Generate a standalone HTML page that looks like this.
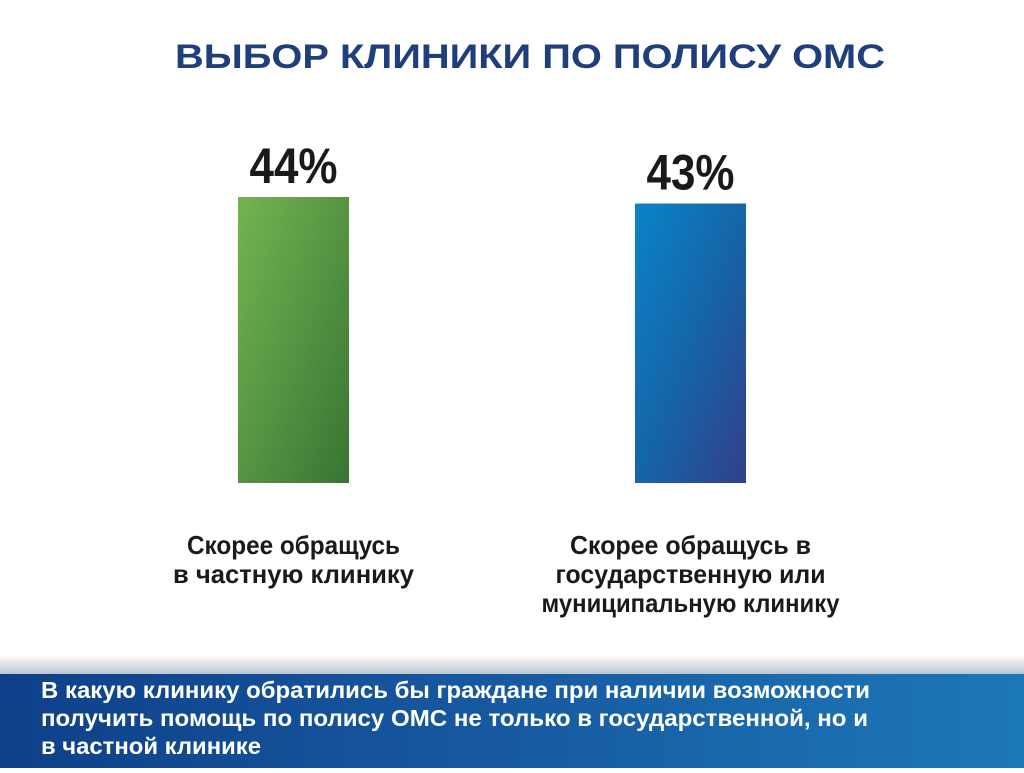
<!DOCTYPE html>
<html><head><meta charset="utf-8"><style>
body{margin:0;width:1024px;height:768px;overflow:hidden;background:#fff;font-family:"Liberation Sans",sans-serif}
</style></head><body>
<svg width="1024" height="768" viewBox="0 0 1024 768">
<defs>
<linearGradient id="gg" x1="0" y1="0" x2="1" y2="1"><stop offset="0" stop-color="#74b451"/><stop offset="1" stop-color="#3a7434"/></linearGradient>
<linearGradient id="bg" x1="0" y1="0" x2="1" y2="1"><stop offset="0" stop-color="#0b84c8"/><stop offset="0.5" stop-color="#1565a8"/><stop offset="1" stop-color="#323f8a"/></linearGradient>
<linearGradient id="band" x1="0" y1="0" x2="1" y2="0"><stop offset="0" stop-color="#0e4089"/><stop offset="0.5" stop-color="#175aa2"/><stop offset="1" stop-color="#1c78b8"/></linearGradient>
<linearGradient id="fade" x1="0" y1="0" x2="0" y2="1"><stop offset="0" stop-color="#ffffff"/><stop offset="1" stop-color="#b8c2cc"/></linearGradient>
</defs>
<text x="175" y="68" font-size="34" font-weight="bold" fill="#1f3e7c" textLength="710" lengthAdjust="spacingAndGlyphs">ВЫБОР КЛИНИКИ ПО ПОЛИСУ ОМС</text>
<g id="bars"></g>
<rect x="0" y="655" width="1024" height="20" fill="url(#fade)"/>
<rect x="0" y="674" width="1024" height="94" fill="url(#band)"/>
<g font-size="23" font-weight="bold" fill="#fff">
<text x="41" y="698" textLength="829" lengthAdjust="spacingAndGlyphs">В какую клинику обратились бы граждане при наличии возможности</text>
<text x="41" y="726" textLength="827" lengthAdjust="spacingAndGlyphs">получить помощь по полису ОМС не только в государственной, но и</text>
<text x="41" y="754" textLength="220" lengthAdjust="spacingAndGlyphs">в частной клинике</text>
</g>
</svg>
<script>
const categories=["Скорее обращусь в частную клинику","Скорее обращусь в государственную или муниципальную клинику"];
const values=[44,43];
const valueLabels=["44%","43%"];
const catLines=[["Скорее обращусь","в частную клинику"],["Скорее обращусь в","государственную или","муниципальную клинику"]];
const base=483, scale=6.5, barW=111;
const centers=[293.5,690.5];
const fills=["url(#gg)","url(#bg)"];
const y=v=>base-v*scale;
const ns="http://www.w3.org/2000/svg";
const g=document.getElementById('bars');
values.forEach((v,i)=>{
  const r=document.createElementNS(ns,'rect');
  
  
  r.setAttribute('x',centers[i]-barW/2);r.setAttribute('y',y(v));
  r.setAttribute('width',barW);r.setAttribute('height',base-y(v));
  r.setAttribute('fill',fills[i]);g.appendChild(r);
  const t=document.createElementNS(ns,'text');
  
  
  t.setAttribute('x',centers[i]);t.setAttribute('y',y(v)-14);
  t.setAttribute('text-anchor','middle');t.setAttribute('font-size','50');
  t.setAttribute('font-weight','bold');t.setAttribute('fill','#1a1a1a');
  t.setAttribute('textLength','88');t.setAttribute('lengthAdjust','spacingAndGlyphs');
  t.textContent=valueLabels[i];g.appendChild(t);
  catLines[i].forEach((ln,j)=>{
    const c=document.createElementNS(ns,'text');
    
    
    c.setAttribute('x',centers[i]);c.setAttribute('y',554+j*29);
    c.setAttribute('text-anchor','middle');c.setAttribute('font-size','26');
    c.setAttribute('font-weight','bold');c.setAttribute('fill','#1a1a1a');
    c.setAttribute('textLength',Math.round(ln.length*14.2));c.setAttribute('lengthAdjust','spacingAndGlyphs');
    c.textContent=ln;g.appendChild(c);
  });
});
</script>
</body></html>
